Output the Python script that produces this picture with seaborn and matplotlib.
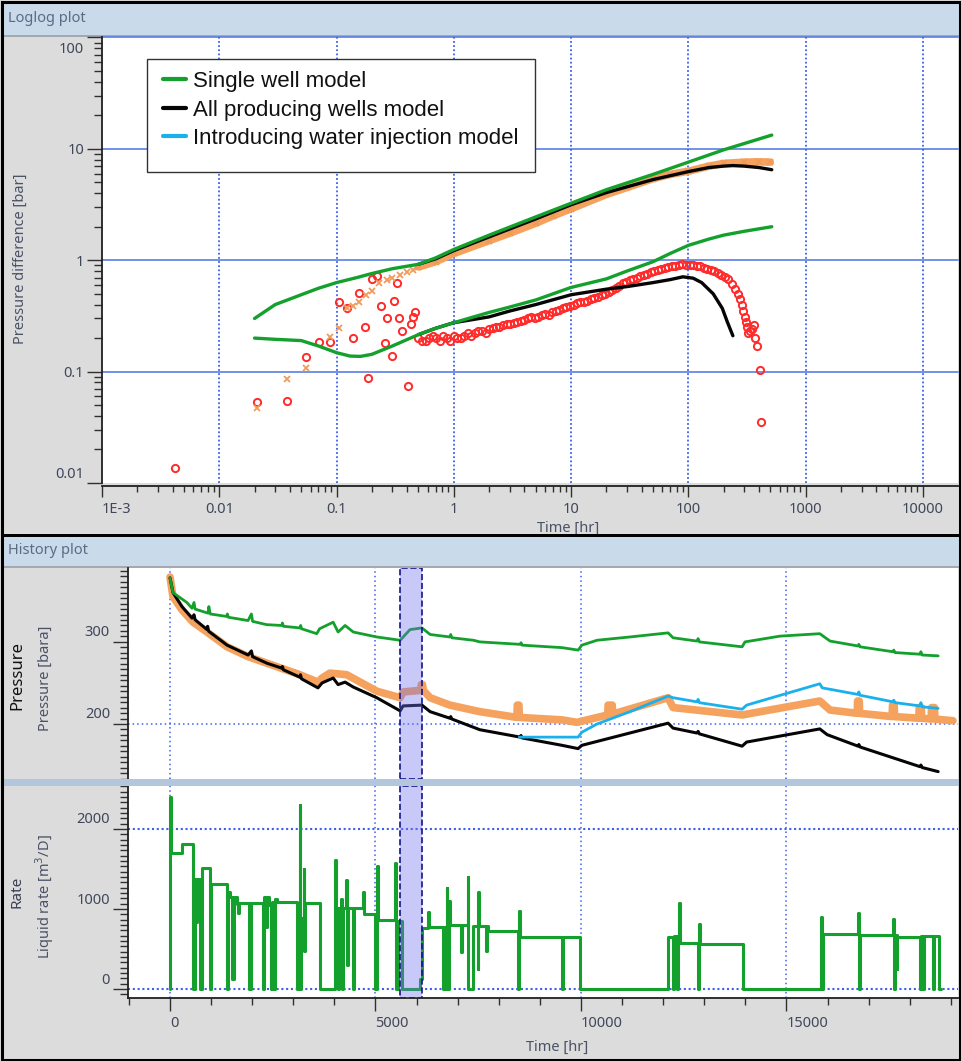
import numpy as np
import matplotlib
matplotlib.use("Agg")
import matplotlib.pyplot as plt
import matplotlib.transforms as mtransforms
from matplotlib.lines import Line2D
from matplotlib.patches import Rectangle
from matplotlib.ticker import LogLocator, NullFormatter, AutoMinorLocator, MultipleLocator
import seaborn as sns

sns.set_style("white")
plt.rcParams["font.family"] = ["Noto Sans", "DejaVu Sans"]

# ---------------- Loglog data ----------------
loglog_xticks = [1e-3, 1e-2, 1e-1, 1, 10, 100, 1000, 10000]
loglog_xlabels = ["1E-3", "0.01", "0.1", "1", "10", "100", "1000", "10000"]
loglog_yticks = [0.01, 0.1, 1, 10, 100]
loglog_ylabels = ["0.01", "0.1", "1", "10", "100"]

# single well model: pressure change (upper) and derivative (lower)
GU_t = [0.02, 0.03, 0.05, 0.07, 0.1, 0.15, 0.2, 0.3, 0.5, 0.7, 1, 2, 5, 10, 20, 50, 100, 200, 515]
GU_p = [0.30, 0.40, 0.49, 0.56, 0.63, 0.70, 0.76, 0.84, 0.92, 1.05, 1.25, 1.68, 2.45, 3.25, 4.3, 5.9, 7.6, 9.8, 13.3]
GL_t = [0.02, 0.03, 0.05, 0.07, 0.1, 0.13, 0.16, 0.2, 0.3, 0.5, 0.7, 1, 2, 3, 5, 10, 20, 30, 50, 70, 100, 150, 200, 300, 515]
GL_p = [0.20, 0.195, 0.19, 0.17, 0.148, 0.138, 0.137, 0.143, 0.17, 0.215, 0.245, 0.275, 0.34, 0.38, 0.44, 0.57, 0.68, 0.80, 0.97, 1.15, 1.36, 1.55, 1.68, 1.82, 2.0]

# all producing wells model
BU_t = [0.5, 0.7, 1, 2, 5, 10, 20, 50, 100, 150, 200, 240, 300, 400, 515]
BU_p = [0.92, 1.03, 1.22, 1.62, 2.35, 3.15, 4.05, 5.3, 6.25, 6.8, 7.0, 7.08, 7.0, 6.8, 6.5]
BL_t = [0.5, 0.7, 1, 2, 3, 5, 10, 20, 30, 50, 70, 90, 110, 130, 163, 195, 215, 240]
BL_p = [0.215, 0.245, 0.275, 0.31, 0.35, 0.40, 0.49, 0.55, 0.58, 0.63, 0.67, 0.71, 0.69, 0.63, 0.50, 0.37, 0.28, 0.21]

# measured pressure change (orange x)
OX_t = [0.021, 0.038, 0.055, 0.088, 0.105, 0.122, 0.138, 0.155, 0.18, 0.20, 0.23, 0.27, 0.30, 0.35, 0.40, 0.45]
OX_p = [0.047, 0.085, 0.107, 0.205, 0.248, 0.37, 0.39, 0.42, 0.49, 0.53, 0.63, 0.67, 0.70, 0.74, 0.78, 0.82]
OB_t = [0.5, 0.7, 1, 2, 3, 5, 7, 10, 20, 30, 50, 70, 100, 150, 200, 300, 400, 500]
OB_p = [0.87, 0.97, 1.15, 1.5, 1.75, 2.15, 2.5, 2.9, 3.9, 4.5, 5.4, 5.9, 6.3, 7.0, 7.4, 7.6, 7.65, 7.6]

# measured derivative (red circles)
RE_t = [0.0042, 0.021, 0.038, 0.055, 0.071, 0.088, 0.104, 0.123, 0.138, 0.155,
        0.174, 0.187, 0.20, 0.22, 0.24, 0.26, 0.27, 0.30, 0.31, 0.33,
        0.34, 0.36, 0.41, 0.43, 0.45, 0.47]
RE_p = [0.0135, 0.053, 0.055, 0.136, 0.186, 0.186, 0.42, 0.37, 0.20, 0.51,
        0.25, 0.087, 0.68, 0.72, 0.39, 0.18, 0.30, 0.137, 0.43, 0.63,
        0.30, 0.23, 0.074, 0.27, 0.31, 0.34]
RD_t = [0.5, 0.575, 0.66, 0.76, 0.87, 1.0, 1.15, 1.32, 1.51, 1.74,
        2.0, 2.29, 2.63, 3.02, 3.47, 3.98, 4.57, 5.25, 6.03, 6.92,
        7.94, 9.12, 10.5, 12.0, 13.8, 15.8, 18.2, 20.9, 24.0, 27.5,
        31.6, 36.3, 41.7, 47.9, 55.0, 63.1, 72.4, 83.2, 95.5, 110,
        126, 145, 166, 191, 219, 251, 275, 295, 309, 324,
        347, 363, 372, 389, 407, 420]
RD_p = [0.20, 0.19, 0.21, 0.19, 0.20, 0.21, 0.20, 0.22, 0.22, 0.23,
        0.24, 0.25, 0.26, 0.27, 0.28, 0.29, 0.31, 0.31, 0.33, 0.34,
        0.36, 0.38, 0.40, 0.42, 0.43, 0.46, 0.49, 0.52, 0.56, 0.62,
        0.66, 0.70, 0.74, 0.78, 0.82, 0.86, 0.88, 0.90, 0.91, 0.90,
        0.88, 0.84, 0.80, 0.74, 0.68, 0.55, 0.45, 0.35, 0.28, 0.22,
        0.24, 0.26, 0.20, 0.17, 0.104, 0.035]
RM_t = [0.536, 0.616, 0.708, 0.813, 0.933, 1.07, 1.23, 1.41, 1.62, 1.87,
        2.14, 2.45, 2.82, 3.24, 3.72, 4.26, 4.90, 5.63, 6.46, 7.41,
        8.51, 9.79, 11.2, 12.9, 14.8, 17.0, 19.5, 22.4, 25.7, 29.5,
        33.9, 38.9, 44.7, 51.3, 58.9, 67.6, 77.6, 89.1, 103, 118,
        135, 155, 178, 204, 235, 263, 285, 302, 316, 335]
RM_p = [0.19, 0.20, 0.20, 0.21, 0.19, 0.20, 0.21, 0.21, 0.23, 0.22,
        0.245, 0.25, 0.265, 0.275, 0.285, 0.30, 0.305, 0.32, 0.325, 0.35,
        0.37, 0.39, 0.41, 0.42, 0.45, 0.47, 0.50, 0.54, 0.59, 0.64,
        0.68, 0.72, 0.76, 0.80, 0.84, 0.87, 0.89, 0.92, 0.90, 0.89,
        0.86, 0.82, 0.77, 0.71, 0.61, 0.50, 0.40, 0.31, 0.25, 0.23]

legend_labels = ["Single well model", "All producing wells model", "Introducing water injection model"]

# ---------------- History data ----------------
hist_xticks = [0, 5000, 10000, 15000]
press_yticks = [200, 300]
rate_yticks = [0, 1000, 2000]
band_t = [5596, 6131]

G_t = [0, 73, 410, 535, 584, 610, 925, 945, 980, 1380,
       1395, 1420, 1900, 1980, 2010, 2350, 2720, 2735, 2760, 3160,
       3180, 3200, 3570, 3640, 3970, 4090, 4260, 4460, 5030, 5600,
       5840, 6130, 6330, 6810, 6830, 6860, 7380, 7540, 8520, 8540,
       8570, 9540, 9930, 10020, 10390, 11190, 12120, 12240, 12820, 12850,
       12880, 13920, 13990, 14840, 15810, 16060, 16740, 16760, 16790, 17590,
       17610, 17640, 18250, 18270, 18300, 18690]
G_p = [378, 360, 348, 341, 348, 340, 335, 343, 334, 331,
       334, 330, 326, 334, 325, 321, 320, 323, 319, 317,
       320, 316, 310, 316, 324, 312, 320, 312, 306, 302,
       315, 317, 309, 306, 309, 305, 302, 300, 297, 299,
       296, 293, 290, 296, 302, 306, 311, 305, 301, 304,
       300, 294, 300, 307, 310, 301, 295, 297, 294, 288,
       290, 287, 285, 288, 284, 283]

B_t = [0, 73, 290, 535, 584, 610, 900, 915, 940, 1390,
       1900, 1980, 2010, 2360, 2720, 2735, 2760, 3160, 3175, 3200,
       3600, 3700, 3970, 4090, 4260, 4460, 5030, 5600, 5670, 6130,
       6330, 6810, 6830, 6860, 7540, 8520, 8540, 8570, 9540, 9930,
       10020, 12120, 12240, 12820, 12850, 12880, 13920, 14030, 15810, 15990,
       16740, 16760, 16790, 18250, 18270, 18300, 18690]
B_p = [378, 360, 343, 329, 333, 327, 315, 319, 313, 296,
       284, 289, 282, 274, 268, 270, 266, 257, 260, 255,
       244, 250, 256, 248, 251, 245, 232, 216, 222, 223,
       215, 207, 209, 206, 193, 184, 186, 183, 174, 170,
       174, 201, 195, 189, 191, 188, 173, 178, 194, 187,
       173, 175, 172, 148, 150, 147, 142]

C_t = [8500, 9540, 9930, 10020, 10390, 11190, 12120, 12240, 12820, 12850,
       12880, 13920, 14030, 15810, 15870, 16740, 16760, 16790, 17590, 17610,
       17640, 18250, 18270, 18300, 18690]
C_p = [184, 184, 184, 190, 200, 215, 234, 232, 227, 230,
       226, 218, 223, 249, 244, 236, 239, 235, 227, 229,
       226, 222, 226, 221, 219]

O_t = [0, 73, 290, 560, 900, 1390, 1900, 2360, 3160, 3600,
       3700, 3890, 4300, 5030, 5600, 5670, 6100, 6115, 6145, 6160,
       6330, 6810, 7540, 8440, 8450, 8490, 8500, 9540, 9900, 10650,
       10660, 10760, 10770, 12120, 12240, 13920, 15810, 16060, 16720, 16730,
       16770, 16780, 17570, 17580, 17620, 17630, 18220, 18230, 18280, 18290,
       18520, 18530, 18600, 18610, 19050]
O_p = [379, 355, 339, 324, 312, 294, 282, 274, 260, 251,
       256, 262, 260, 240, 232, 239, 241, 248, 248, 241,
       232, 223, 215, 208, 223, 223, 208, 205, 202, 211,
       223, 223, 212, 232, 220, 211, 228, 217, 213, 228,
       228, 213, 209, 223, 223, 209, 207, 220, 220, 207,
       206, 220, 220, 206, 204]

R_t = [0, 1, 30, 285, 567, 600, 640, 660, 740, 770,
       973, 995, 1379, 1400, 1470, 1520, 1545, 1640, 1665, 1690,
       1930, 1965, 2270, 2290, 2340, 2360, 2400, 2460, 2490, 2540,
       2560, 2600, 3080, 3110, 3150, 3163, 3175, 3190, 3250, 3265,
       3285, 3650, 4020, 4035, 4090, 4110, 4150, 4170, 4190, 4210,
       4290, 4305, 4320, 4450, 4470, 4700, 4715, 4990, 5040, 5060,
       5475, 5500, 5540, 5640, 6080, 6120, 6270, 6290, 6650, 6700,
       6730, 6745, 6800, 6815, 7090, 7110, 7243, 7258, 7380, 7490,
       7502, 7515, 7700, 7720, 7745, 8475, 8490, 8505, 9530, 9550,
       9976, 12125, 12240, 12260, 12330, 12350, 12385, 12400, 12850, 12880,
       12900, 13951, 15830, 15860, 15900, 16747, 16760, 16780, 17599, 17610,
       17630, 17680, 17700, 18248, 18270, 18330, 18350, 18560, 18580, 18718,
       18760]
R_q = [0, 2400, 1705, 1815, 0, 1375, 840, 1375, 0, 1510,
       0, 1316, 0, 1208, 1150, 120, 1150, 1060, 950, 1073,
       0, 1073, 0, 1150, 780, 1150, 1050, 0, 1090, 0,
       1130, 1090, 0, 870, 590, 2300, 0, 890, 1500, 470,
       1075, 0, 1610, 1010, 0, 1010, 40, 1120, 0, 1010,
       1360, 300, 1010, 0, 1010, 1210, 940, 0, 1540, 860,
       1570, 0, 850, 0, 130, 760, 965, 770, 0, 770,
       1260, 0, 1100, 800, 460, 800, 1400, 0, 790, 250,
       1210, 790, 480, 790, 725, 0, 975, 655, 0, 655,
       0, 655, 0, 660, 0, 650, 1075, 580, 0, 810,
       560, 0, 905, 0, 690, 955, 0, 680, 875, 0,
       680, 250, 650, 0, 660, 0, 665, 0, 665, 0,
       0]

# ---------------- styling ----------------
GREEN = "#14a02c"
BLACK = "#050505"
CYAN = "#1ab0ec"
ORANGE = "#f5a25e"
RED = "#ff2a2a"
GRIDC = "#3d5ff0"
HGRID = "#5a7fe4"
TICKC = "#3f4759"
BG = "#dcdcdc"

W, H = 962, 1061
fig = plt.figure(figsize=(W / 100, H / 100), dpi=100, facecolor=BG)


def fx(px):
    return px / W


def fy(py):
    return 1 - py / H


def add_rect(x0, y0, x1, y1, z=-5, **kw):
    r = Rectangle((fx(x0), fy(y1)), (x1 - x0) / W, (y1 - y0) / H,
                  transform=fig.transFigure, zorder=z, **kw)
    fig.add_artist(r)
    return r


# headers
add_rect(3, 3, 959, 35, facecolor="#c9daea", edgecolor="none")
add_rect(3, 35, 959, 36.5, facecolor="#a4a9b0", edgecolor="none")
add_rect(3, 537, 959, 566, facecolor="#c9daea", edgecolor="none")
add_rect(3, 566, 959, 567.5, facecolor="#a4a9b0", edgecolor="none")
fig.text(fx(8), fy(18), "Loglog plot", fontsize=10.5, color="#5c6a84", va="center", ha="left")
fig.text(fx(8), fy(551), "History plot", fontsize=10.5, color="#5c6a84", va="center", ha="left")

# ---------------- Loglog axes ----------------
ax1 = fig.add_axes([fx(102), fy(483), (958 - 102) / W, (483 - 37.5) / H])
ax1.set_facecolor("white")
ax1.set_xscale("log")
ax1.set_yscale("log")

for v in [0.1, 1, 10, 100]:
    ax1.axhline(v, color=HGRID, lw=1.2, zorder=0.5, clip_on=False)
for v in loglog_xticks[1:]:
    ax1.axvline(v, color=GRIDC, lw=1.3, ls=(0, (1, 1.3)), zorder=0.5)

sns.lineplot(x=np.array(RE_t + RD_t + RM_t), y=np.array(RE_p + RD_p + RM_p), ax=ax1, estimator=None,
             sort=False, marker="o", linestyle="none", markersize=5.2, markerfacecolor="none",
             markeredgecolor=RED, markeredgewidth=1.4, color=RED, legend=False, zorder=2)
sns.lineplot(x=np.array(OB_t), y=np.array(OB_p), ax=ax1, estimator=None, sort=False,
             color=ORANGE, lw=5.5, legend=False, zorder=2.2, solid_capstyle="round")
sns.lineplot(x=np.array(OX_t + OB_t), y=np.array(OX_p + OB_p), ax=ax1, estimator=None, sort=False,
             marker="x", linestyle="none", markersize=5, markeredgewidth=1.3,
             markeredgecolor="#f19a5a", color="#f19a5a", legend=False, zorder=2.3)
for tt, pp in [(BU_t, BU_p), (BL_t, BL_p)]:
    sns.lineplot(x=np.array(tt), y=np.array(pp), ax=ax1, estimator=None, sort=False,
                 color=BLACK, lw=2.4, legend=False, zorder=3)
for tt, pp in [(GU_t, GU_p), (GL_t, GL_p)]:
    sns.lineplot(x=np.array(tt), y=np.array(pp), ax=ax1, estimator=None, sort=False,
                 color=GREEN, lw=2.4, legend=False, zorder=3.2)

ax1.set_xlabel("")
ax1.set_ylabel("")
ax1.set_xticks(loglog_xticks, labels=loglog_xlabels)
ax1.set_yticks(loglog_yticks, labels=loglog_ylabels)
ax1.xaxis.set_minor_locator(LogLocator(base=10, subs=np.arange(2, 10) * 1.0, numticks=100))
ax1.yaxis.set_minor_locator(LogLocator(base=10, subs=np.arange(2, 10) * 1.0, numticks=100))
ax1.xaxis.set_minor_formatter(NullFormatter())
ax1.yaxis.set_minor_formatter(NullFormatter())
ax1.set_xlim(1e-3, 10 ** 4.30)
ax1.set_ylim(0.01, 100)
for s in ["top", "right"]:
    ax1.spines[s].set_visible(False)
for s in ["left", "bottom"]:
    ax1.spines[s].set_color("#202020")
    ax1.spines[s].set_linewidth(1.3)
ax1.spines["bottom"].set_position(("outward", 2))
ax1.tick_params(axis="y", which="major", direction="out", length=11, width=1, color="#303030",
                labelsize=10.5, labelcolor=TICKC, pad=2, left=True)
ax1.tick_params(axis="y", which="minor", direction="out", length=5.5, width=1, color="#303030", left=True)
ax1.tick_params(axis="x", which="major", direction="out", length=8, width=1, color="#303030",
                labelsize=10.5, labelcolor=TICKC, pad=4, bottom=True)
ax1.tick_params(axis="x", which="minor", direction="out", length=4, width=1, color="#303030", bottom=True)
ax1.grid(False)

# tick label nudges like the reference
xl = ax1.get_xticklabels()
xl[0].set_ha("left")
yl = ax1.get_yticklabels()
yl[-1].set_transform(yl[-1].get_transform() + mtransforms.ScaledTranslation(0, -10 / 100, fig.dpi_scale_trans))
yl[0].set_transform(yl[0].get_transform() + mtransforms.ScaledTranslation(0, 11 / 100, fig.dpi_scale_trans))

# legend box + legend
ax1.add_patch(Rectangle((45 / 856, (483 - 172) / 445.5), 388 / 856, 113 / 445.5, transform=ax1.transAxes,
                        facecolor="white", edgecolor="#333333", lw=1.0, zorder=6))
handles = [Line2D([], [], color=GREEN, lw=3), Line2D([], [], color=BLACK, lw=3), Line2D([], [], color=CYAN, lw=3)]
leg = ax1.legend(handles, legend_labels, loc="upper left", bbox_to_anchor=((163 - 102) / 856, (483 - 71) / 445.5),
                 frameon=False, borderpad=0, borderaxespad=0, handlelength=1.05, handletextpad=0.32,
                 labelspacing=0.34, prop={"family": "Liberation Sans", "size": 16})
leg.set_zorder(7)
for t in leg.get_texts():
    t.set_color("#111111")

fig.text(fx(20), fy(259), "Pressure difference [bar]", rotation=90, ha="center", va="center",
         fontsize=10.5, color="#4a5266")
fig.text(fx(568), fy(528), "Time [hr]", ha="center", va="center", fontsize=10.5, color="#4a5266")

# ---------------- History axes ----------------
ax2 = fig.add_axes([fx(128), fy(779), (958 - 128) / W, (779 - 568) / H])
ax3 = fig.add_axes([fx(128), fy(998), (958 - 128) / W, (998 - 786) / H])
XL = (-1022, 19173)

for ax in (ax2, ax3):
    ax.set_facecolor("white")
    for v in hist_xticks:
        ax.axvline(v, color=GRIDC, lw=1.1, ls=(0, (1, 2)), zorder=0.5)
ax2.axhline(200, color=GRIDC, lw=1.1, ls=(0, (1, 2)), zorder=0.5)
ax3.axhline(0, color=GRIDC, lw=1.5, ls=(0, (1, 1.3)), zorder=0.5)
ax3.axhline(2000, color=GRIDC, lw=1.5, ls=(0, (1, 1.3)), zorder=0.5)

sns.lineplot(x=np.array(O_t), y=np.array(O_p), ax=ax2, estimator=None, sort=False,
             color=ORANGE, lw=5.5, legend=False, zorder=2)
sns.lineplot(x=np.array(B_t), y=np.array(B_p), ax=ax2, estimator=None, sort=False,
             color=BLACK, lw=2.2, legend=False, zorder=3)
sns.lineplot(x=np.array(C_t), y=np.array(C_p), ax=ax2, estimator=None, sort=False,
             color=CYAN, lw=2.0, legend=False, zorder=3.1)
sns.lineplot(x=np.array(G_t), y=np.array(G_p), ax=ax2, estimator=None, sort=False,
             color=GREEN, lw=2.0, legend=False, zorder=3.2)
sns.lineplot(x=np.array(R_t), y=np.array(R_q), ax=ax3, estimator=None, sort=False,
             color=GREEN, lw=2.2, drawstyle="steps-post", legend=False, zorder=3)

for ax in (ax2, ax3):
    ax.axvspan(band_t[0], band_t[1], facecolor=(0.44, 0.44, 0.94, 0.38), edgecolor="#14148c",
               ls="--", lw=1.2, zorder=5)
    ax.set_xlabel("")
    ax.set_ylabel("")
    for s in ["top", "right"]:
        ax.spines[s].set_visible(False)
    ax.spines["left"].set_color("#202020")
    ax.spines["left"].set_linewidth(1.3)
    ax.grid(False)

ax2.spines["bottom"].set_visible(False)
ax3.spines["bottom"].set_color("#202020")
ax3.spines["bottom"].set_linewidth(1.3)

ax2.set_xticks([])
ax2.set_yticks(press_yticks, labels=[str(v) for v in press_yticks])
ax2.yaxis.set_minor_locator(AutoMinorLocator(15))
ax3.set_yticks(rate_yticks, labels=[str(v) for v in rate_yticks])
ax3.yaxis.set_minor_locator(AutoMinorLocator(15))
ax3.set_xticks(hist_xticks, labels=[str(v) for v in hist_xticks])
ax3.xaxis.set_minor_locator(MultipleLocator(1000))
ax2.set_xlim(*XL)
ax3.set_xlim(*XL)
ax2.set_ylim(133, 390)
ax3.set_ylim(-112, 2537)

for ax in (ax2, ax3):
    ax.tick_params(axis="y", which="major", direction="out", length=11, width=1, color="#303030",
                   labelsize=10.5, labelcolor=TICKC, pad=2, left=True)
    ax.tick_params(axis="y", which="minor", direction="out", length=5.5, width=1, color="#303030", left=True)
    off = mtransforms.ScaledTranslation(0, 11 / 100, fig.dpi_scale_trans)
    for lab in ax.get_yticklabels():
        lab.set_transform(lab.get_transform() + off)
ax3.tick_params(axis="x", which="major", direction="out", length=9, width=1, color="#303030",
                labelsize=10.5, labelcolor=TICKC, pad=4, bottom=True)
ax3.tick_params(axis="x", which="minor", direction="out", length=5, width=1, color="#303030", bottom=True)
for lab in ax3.get_xticklabels():
    lab.set_ha("left")

# separator band between pressure and rate
add_rect(3, 779, 959, 786, z=10, facecolor="#b3c6dc", edgecolor="none")

fig.text(fx(17), fy(675), "Pressure", rotation=90, ha="center", va="center", fontsize=12,
         fontweight="bold", color="#111111")
fig.text(fx(45), fy(678), "Pressure [bara]", rotation=90, ha="center", va="center", fontsize=10.5,
         color="#4a5266")
fig.text(fx(17), fy(892), "Rate", rotation=90, ha="center", va="center", fontsize=11, color="#3a4050")
fig.text(fx(45), fy(897), "Liquid rate [m$^3$/D]", rotation=90, ha="center", va="center", fontsize=10.5,
         color="#4a5266")
fig.text(fx(557), fy(1047), "Time [hr]", ha="center", va="center", fontsize=10.5, color="#4a5266")

# frame lines
add_rect(1.5, 1.5, 960, 1059.5, z=20, facecolor="none", edgecolor="#000000", lw=2.2)
add_rect(1.5, 534, 960, 536.5, z=20, facecolor="#000000", edgecolor="none")

fig.savefig("out.png", dpi=100, facecolor=BG)
